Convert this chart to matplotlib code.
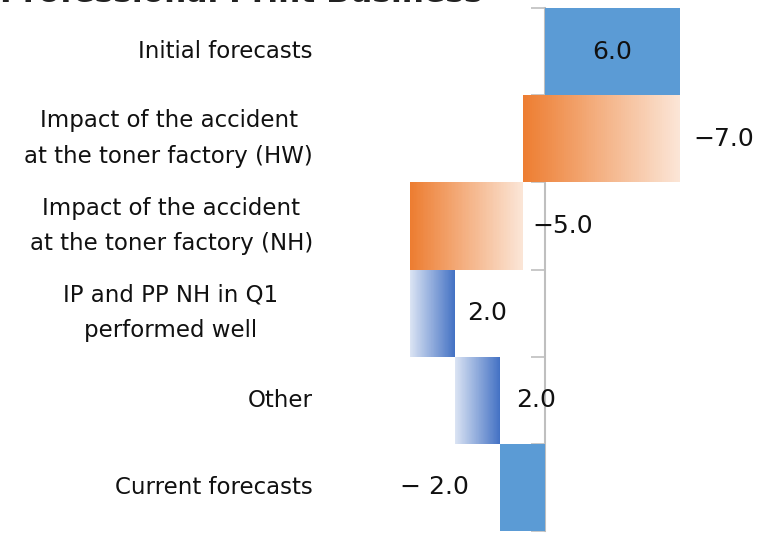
import matplotlib.pyplot as plt
import matplotlib.transforms as mtransforms
from matplotlib.colors import LinearSegmentedColormap
import numpy as np

plt.rcParams['font.family'] = ['DejaVu Sans']

categories = ['Initial forecasts',
              'Impact of the accident\nat the toner factory (HW)',
              'Impact of the accident\nat the toner factory (NH)',
              'IP and PP NH in Q1\nperformed well',
              'Other',
              'Current forecasts']
changes = [6.0, -7.0, -5.0, 2.0, 2.0, -2.0]
value_labels = ['6.0', '\u22127.0', '\u22125.0', '2.0', '2.0', '\u2212 2.0']
kinds = ['total', 'down', 'down', 'up', 'up', 'total']

# waterfall: start of each bar
starts = []
running = 0.0
for i, c in enumerate(changes[:-1]):
    starts.append(running)
    running += c
starts.append(0.0)
widths = list(changes[:-1]) + [running]

W, H = 769, 533
fig = plt.figure(figsize=(W / 100, H / 100), dpi=100)
ax = fig.add_axes([380 / W, 2 / H, (W - 380) / W, (531 - 8) / H])

ypos = np.arange(len(categories))

orange_cmap = LinearSegmentedColormap.from_list('o', ['#ED7D31', '#FBE5D6'])
blue_cmap = LinearSegmentedColormap.from_list('b', ['#DAE3F3', '#4472C4'])

bars = ax.barh(ypos, widths, left=starts, height=1.0, color='#5B9BD5',
               edgecolor='none', zorder=2)
nseg = 80
for i, b in enumerate(bars):
    if kinds[i] == 'total':
        continue
    x0 = b.get_x()
    x1 = x0 + b.get_width()
    xl, xr = min(x0, x1), max(x0, x1)
    cmap = orange_cmap if kinds[i] == 'down' else blue_cmap
    b.set_visible(False)
    edges = np.linspace(xl, xr, nseg + 1)
    ax.barh([ypos[i]] * nseg, np.diff(edges) * 1.02, left=edges[:-1], height=1.0,
            color=cmap(np.linspace(0, 1, nseg)), linewidth=0, antialiased=False,
            zorder=2)

ax.set_xlim((380 - 545) / 22.5, (769 - 545) / 22.5)
ax.set_ylim(len(categories) - 0.5, -0.5)

# zero axis with ticks at category boundaries, drawn behind the bars
for s in ['top', 'right', 'bottom']:
    ax.spines[s].set_visible(False)
ax.spines['left'].set_position(('data', 0))
ax.spines['left'].set_color('#BFBFBF')
ax.spines['left'].set_linewidth(1.5)
ax.spines['left'].set_zorder(1)
ax.set_axisbelow(True)
ax.set_yticks(np.arange(len(categories) + 1) - 0.5)
ax.tick_params(axis='y', length=10, width=1.2, color='#BFBFBF', labelleft=False)
ax.set_xticks([])
ax.patch.set_visible(False)

# value labels
label_pad = [0, 0.58, 0.45, 0.55, 0.7, -1.38]
for i, b in enumerate(bars):
    x0 = b.get_x()
    x1 = x0 + b.get_width()
    if i == 0:
        ax.text((x0 + x1) / 2, ypos[i], value_labels[i], ha='center', va='center',
                fontsize=18, color='#111111', zorder=4)
    elif i == len(bars) - 1:
        ax.text(min(x0, x1) + label_pad[i], ypos[i], value_labels[i], ha='right',
                va='center', fontsize=18, color='#111111', zorder=4)
    else:
        ax.text(max(x0, x1) + label_pad[i], ypos[i], value_labels[i], ha='left',
                va='center', fontsize=18, color='#111111', zorder=4)

# category labels
tr = mtransforms.blended_transform_factory(fig.transFigure, ax.transData)
label_x = [313, 313, 313, 278, 313, 313]
for i, c in enumerate(categories):
    ax.text(label_x[i] / W, ypos[i], c, transform=tr, ha='right', va='center',
            multialignment='center', fontsize=16.5, color='#111111', linespacing=1.7)

# title, cut off at the top
fig.text(0, 1 - 2 / H, 'Professional Print Business', ha='left', va='baseline',
         fontsize=22.5, fontweight='bold', color='#222222')

fig.savefig('out.png', dpi=100)
